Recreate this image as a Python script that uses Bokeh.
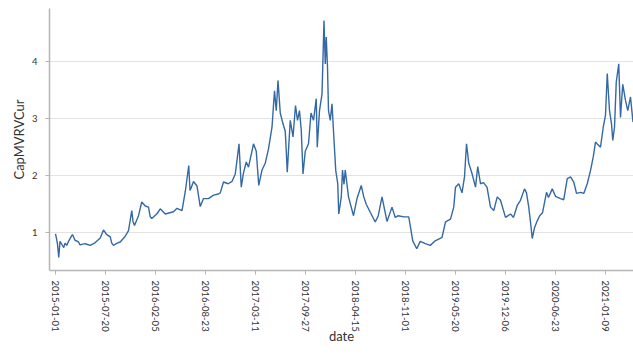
import pandas as pd
from bokeh.plotting import figure
from bokeh.models import FixedTicker, DatetimeTickFormatter, Range1d
from bokeh.embed import file_html
from bokeh.resources import INLINE

dates = [
    "2015-01-01", "2015-01-05", "2015-01-09", "2015-01-14", "2015-01-19", "2015-01-26",
    "2015-02-03", "2015-02-08", "2015-02-15", "2015-02-22", "2015-03-07", "2015-03-10",
    "2015-03-20", "2015-04-03", "2015-04-09", "2015-04-29", "2015-05-06", "2015-05-20",
    "2015-06-09", "2015-06-29", "2015-07-12", "2015-07-25", "2015-08-08", "2015-08-14",
    "2015-08-21", "2015-08-28", "2015-09-10", "2015-09-17", "2015-10-07", "2015-10-20",
    "2015-11-02", "2015-11-07", "2015-11-13", "2015-11-29", "2015-12-12", "2015-12-26",
    "2016-01-08", "2016-01-15", "2016-01-21", "2016-02-10", "2016-02-24", "2016-03-15",
    "2016-04-17", "2016-05-01", "2016-05-21", "2016-06-03", "2016-06-17", "2016-06-22",
    "2016-06-26", "2016-07-06", "2016-07-20", "2016-08-02", "2016-08-15", "2016-09-04",
    "2016-09-24", "2016-10-14", "2016-10-21", "2016-11-03", "2016-11-22", "2016-12-07",
    "2016-12-20", "2016-12-27", "2017-01-04", "2017-01-13", "2017-01-22", "2017-02-02",
    "2017-02-11", "2017-03-03", "2017-03-14", "2017-03-24", "2017-04-06", "2017-04-19",
    "2017-05-02", "2017-05-16", "2017-05-26", "2017-06-02", "2017-06-09", "2017-06-18",
    "2017-06-29", "2017-07-08", "2017-07-12", "2017-07-16", "2017-07-28", "2017-08-08",
    "2017-08-18", "2017-08-26", "2017-09-03", "2017-09-10", "2017-09-17", "2017-09-26",
    "2017-10-09", "2017-10-19", "2017-10-29", "2017-11-09", "2017-11-13", "2017-11-22",
    "2017-12-02", "2017-12-10", "2017-12-15", "2017-12-19", "2017-12-24", "2017-12-28",
    "2018-01-04", "2018-01-11", "2018-01-18", "2018-01-26", "2018-02-03", "2018-02-07",
    "2018-02-17", "2018-02-22", "2018-02-28", "2018-03-05", "2018-03-18", "2018-04-07",
    "2018-04-21", "2018-05-08", "2018-05-18", "2018-05-28", "2018-06-13", "2018-07-03",
    "2018-07-15", "2018-07-30", "2018-08-12", "2018-08-19", "2018-09-08", "2018-09-21",
    "2018-10-03", "2018-10-25", "2018-11-14", "2018-11-20", "2018-11-30", "2018-12-16",
    "2018-12-30", "2019-01-19", "2019-02-08", "2019-02-28", "2019-03-27", "2019-04-10",
    "2019-04-30", "2019-05-13", "2019-05-20", "2019-06-02", "2019-06-15", "2019-06-25",
    "2019-07-03", "2019-07-12", "2019-07-25", "2019-08-08", "2019-08-17", "2019-08-28",
    "2019-09-09", "2019-09-23", "2019-10-07", "2019-10-20", "2019-11-03", "2019-11-16",
    "2019-12-06", "2019-12-26", "2020-01-07", "2020-01-22", "2020-02-04", "2020-02-20",
    "2020-02-28", "2020-03-08", "2020-03-15", "2020-03-22", "2020-03-31", "2020-04-11",
    "2020-04-21", "2020-05-02", "2020-05-18", "2020-05-26", "2020-06-10", "2020-06-23",
    "2020-07-13", "2020-07-26", "2020-08-09", "2020-08-22", "2020-09-04", "2020-09-15",
    "2020-10-01", "2020-10-14", "2020-10-28", "2020-11-10", "2020-11-21", "2020-11-30",
    "2020-12-08", "2020-12-20", "2020-12-31", "2021-01-09", "2021-01-16", "2021-01-25",
    "2021-02-02", "2021-02-07", "2021-02-14", "2021-02-21", "2021-03-03", "2021-03-10",
    "2021-03-19", "2021-03-30", "2021-04-08", "2021-04-19", "2021-04-29",
]

cap_mvrv_cur = [
    0.98, 0.90, 0.80, 0.57, 0.85, 0.80,
    0.74, 0.82, 0.78, 0.85, 0.95, 0.97,
    0.87, 0.84, 0.79, 0.81, 0.80, 0.78,
    0.83, 0.91, 1.05, 0.97, 0.93, 0.82,
    0.78, 0.80, 0.83, 0.84, 0.94, 1.04,
    1.39, 1.20, 1.13, 1.30, 1.54, 1.47,
    1.45, 1.28, 1.25, 1.33, 1.42, 1.33,
    1.37, 1.43, 1.39, 1.72, 2.18, 1.74,
    1.78, 1.90, 1.82, 1.46, 1.60, 1.60,
    1.66, 1.68, 1.70, 1.89, 1.86, 1.90,
    2.03, 2.27, 2.56, 1.80, 2.05, 2.24,
    2.15, 2.56, 2.43, 1.83, 2.10, 2.22,
    2.47, 2.85, 3.49, 3.14, 3.67, 3.10,
    2.91, 2.78, 2.44, 2.06, 2.97, 2.68,
    3.23, 2.97, 3.14, 2.80, 2.03, 2.43,
    2.56, 3.10, 2.97, 3.35, 2.50, 3.14,
    3.43, 4.72, 3.96, 4.43, 3.90, 3.14,
    2.97, 3.26, 2.70, 2.09, 1.86, 1.33,
    1.62, 2.10, 1.85, 2.10, 1.63, 1.30,
    1.60, 1.83, 1.63, 1.50, 1.36, 1.19,
    1.30, 1.63, 1.35, 1.20, 1.45, 1.27,
    1.30, 1.28, 1.28, 1.12, 0.86, 0.72,
    0.85, 0.81, 0.78, 0.86, 0.92, 1.19,
    1.24, 1.45, 1.80, 1.86, 1.70, 1.98,
    2.56, 2.22, 2.04, 1.80, 2.16, 1.86,
    1.88, 1.80, 1.45, 1.39, 1.63, 1.57,
    1.27, 1.33, 1.27, 1.48, 1.57, 1.77,
    1.70, 1.45, 1.19, 0.90, 1.09, 1.21,
    1.30, 1.35, 1.71, 1.62, 1.77, 1.64,
    1.60, 1.58, 1.95, 1.98, 1.89, 1.69,
    1.71, 1.69, 1.86, 2.09, 2.33, 2.59,
    2.55, 2.50, 2.85, 3.06, 3.79, 3.14,
    2.91, 2.62, 2.85, 3.64, 3.96, 3.02,
    3.60, 3.32, 3.14, 3.38, 2.94,
]

tick_dates = [
    "2015-01-01", "2015-07-20", "2016-02-05", "2016-08-23", "2017-03-11", "2017-09-27",
    "2018-04-15", "2018-11-01", "2019-05-20", "2019-12-06", "2020-06-23", "2021-01-09",
]
y_ticks = [1, 2, 3, 4]

x = pd.to_datetime(dates)
tick_ms = [pd.Timestamp(d).value / 1e6 for d in tick_dates]

x_start = pd.Timestamp("2014-12-08").value / 1e6
x_end = pd.Timestamp("2021-05-01").value / 1e6

p = figure(
    width=633, height=356,
    x_axis_type="datetime",
    x_range=Range1d(x_start, x_end),
    y_range=Range1d(0.34, 4.93),
    output_backend="svg", toolbar_location=None,
    min_border_left=49, min_border_right=0, min_border_top=8, min_border_bottom=86,
)
p.outline_line_color = None
p.background_fill_color = "white"
p.border_fill_color = "white"

p.line(x, cap_mvrv_cur, line_color="#3469a6", line_width=1.4)

font = "Lato"
p.xaxis.ticker = FixedTicker(ticks=tick_ms)
p.xaxis.formatter = DatetimeTickFormatter(
    days="%Y-%m-%d", months="%Y-%m-%d", years="%Y-%m-%d",
    hours="%Y-%m-%d", minutes="%Y-%m-%d", seconds="%Y-%m-%d",
    milliseconds="%Y-%m-%d", microseconds="%Y-%m-%d",
)
p.xaxis.major_label_orientation = "vertical"
p.xaxis.axis_label = "date"
p.yaxis.axis_label = "CapMVRVCur"
p.yaxis.ticker = FixedTicker(ticks=y_ticks)

for ax in (p.xaxis, p.yaxis):
    ax.axis_line_color = "#b5b5b5"
    ax.axis_line_width = 1.5
    ax.major_tick_line_color = "#b5b5b5"
    ax.major_tick_out = 4
    ax.major_tick_in = 0
    ax.minor_tick_line_color = None
    ax.major_label_text_font = font
    ax.major_label_text_font_size = "9.5px"
    ax.major_label_text_color = "#333333"
    ax.axis_label_text_font = font
    ax.axis_label_text_font_size = "13px"
    ax.axis_label_text_font_style = "normal"
    ax.axis_label_text_color = "#333333"

p.xaxis.major_label_standoff = 6
p.xaxis.axis_label_standoff = -7
p.yaxis.major_label_standoff = 8
p.yaxis.axis_label_standoff = 2

p.xgrid.grid_line_color = None
p.ygrid.grid_line_color = "#e3e3e3"
p.ygrid.grid_line_width = 1

open("out.html", "w").write(file_html(p, INLINE))
